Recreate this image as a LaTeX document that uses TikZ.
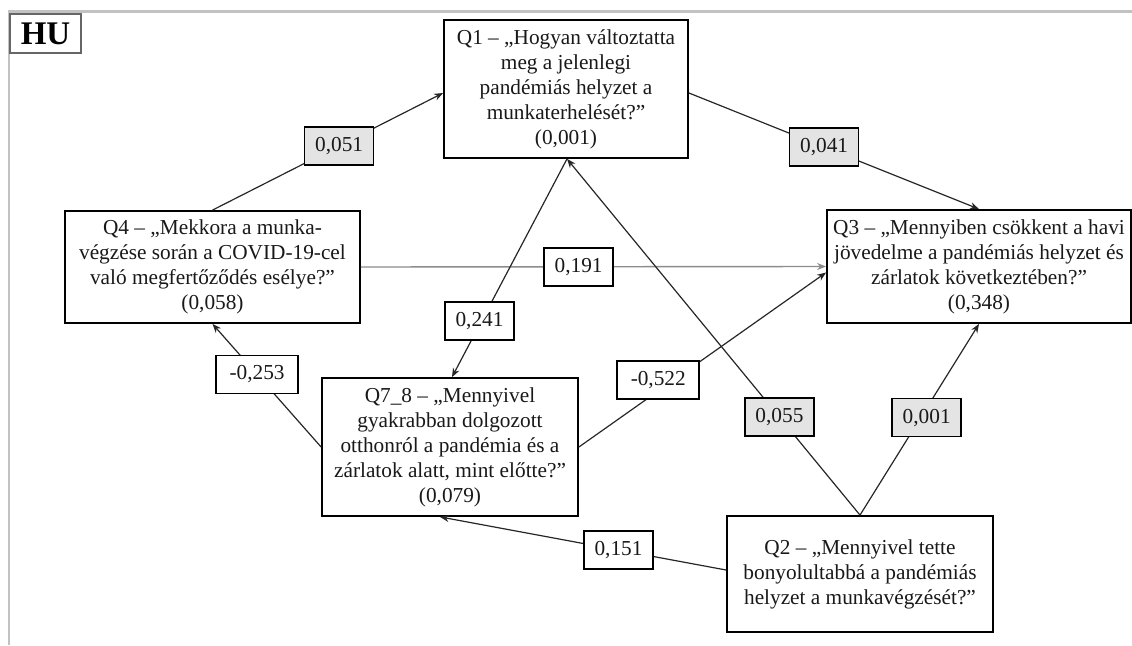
\documentclass[tikz,border=0pt]{standalone}
\usepackage{fontspec}
\setmainfont{Liberation Serif}
\usetikzlibrary{arrows.meta,calc}
\definecolor{labgray}{HTML}{E4E4E4}
\definecolor{framegray}{HTML}{C2C2C2}
\tikzset{
  qbox/.style={draw=black, line width=1.8pt, fill=white, align=center, inner sep=0pt,
    font={\fontsize{21.3}{25}\selectfont}, text=black!90},
  lab/.style={draw=black, line width=1.6pt, fill=white, inner sep=0pt,
    minimum width=69pt, minimum height=38pt, font={\fontsize{21.3}{25}\selectfont}, text=black!90},
  labg/.style={lab, fill=labgray},
  labn/.style={lab, minimum width=82pt},
  conn/.style={draw=black!85, line width=1.2pt, -{Stealth[length=9pt,width=7pt]}},
  conng/.style={conn, draw=black!45, line width=1.4pt}
}
\begin{document}
\begin{tikzpicture}[x=1pt,y=-1pt]
\useasboundingbox (0,0) rectangle (1132,645);
% frame
\draw[framegray, line width=2.5pt] (1132,11.5) -- (9,11.5) -- (9,645);
% HU
\node[draw=black!60, line width=1.5pt, fill=white, minimum width=71pt, minimum height=39pt,
  inner sep=0pt, font={\fontsize{33}{36}\selectfont\bfseries}] (hu) at (45.5,33.5) {HU};
% boxes
\node[qbox, minimum width=244pt, minimum height=138pt] (Q1) at (566,89)
  {Q1 – „Hogyan változtatta\\meg a jelenlegi\\pandémiás helyzet a\\munkaterhelését?”\\(0,001)};
\node[qbox, minimum width=295pt, minimum height=112pt] (Q4) at (212.5,267)
  {Q4 – „Mekkora a munka-\\végzése során a COVID-19-cel\\való megfertőződés esélye?”\\(0,058)};
\node[qbox, minimum width=304pt, minimum height=113pt] (Q3) at (979,266.5)
  {Q3 – „Mennyiben csökkent a havi\\jövedelme a pandémiás helyzet és\\zárlatok következtében?”\\(0,348)};
\node[qbox, minimum width=256pt, minimum height=138pt] (Q78) at (450,447)
  {Q7\_8 – „Mennyivel\\gyakrabban dolgozott\\otthonról a pandémia és a\\zárlatok alatt, mint előtte?”\\(0,079)};
\node[qbox, minimum width=266pt, minimum height=116pt] (Q2) at (860,574)
  {Q2 – „Mennyivel tette\\bonyolultabbá a pandémiás\\helyzet a munkavégzését?”};
% connectors
\draw[conng] (Q4.east) -- node[lab, pos=0.468] (l191) {0,191} (Q3.west);
\draw[conn] (Q4.north) -- node[labg, pos=0.549] (l051) {0,051} ($(Q1.west)+(0,4)$);
\draw[conn] ($(Q1.east)+(0,4)$) -- node[labg, pos=0.466] (l041) {0,041} (Q3.north);
\draw[conn] (Q78.east) -- node[labn, pos=0.321, yshift=11pt] (l522) {-0,522} ($(Q3.west)+(0,6)$);
\draw[conn] ($(Q1.south)+(1,0)$) -- node[lab, pos=0.743, xshift=-2pt] (l241) {0,241} ($(Q78.north)+(2,0)$);
\draw[conn] (Q2.north) -- node[labg, pos=0.275] (l055) {0,055} ($(Q1.south)+(1,0)$);
\draw[conn] (Q2.north) -- node[labg, pos=0.51, xshift=6pt] (l001) {0,001} (Q3.south);
\draw[conn] (Q78.west) -- node[labn, pos=0.589] (l253) {-0,253} (Q4.south);
\draw[conn] ($(Q2.west)+(0,-4)$) -- node[lab, pos=0.376] (l151) {0,151} ($(Q78.south)+(-10,0)$);
\end{tikzpicture}
\end{document}
